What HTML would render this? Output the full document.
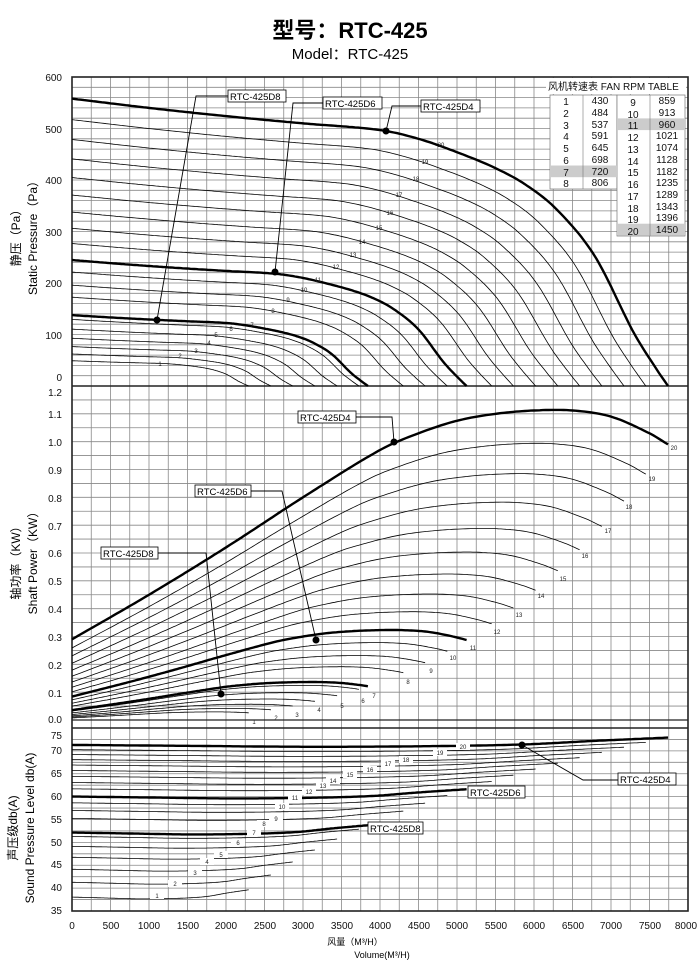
<!DOCTYPE html>
<html><head><meta charset="utf-8"><style>
html,body{margin:0;padding:0;background:#fff;}
svg{display:block;font-family:"Liberation Sans","Noto Sans CJK SC",sans-serif;}
</style></head><body>
<svg id="s" width="700" height="978" viewBox="0 0 700 978" xmlns="http://www.w3.org/2000/svg">
<g id="grid"></g>
<g id="curves"></g>
<text x="350" y="38" font-size="22" text-anchor="middle" font-weight="bold">型号：RTC-425</text>
<text x="350" y="59" font-size="15" text-anchor="middle">Model：RTC-425</text>

<g font-size="10" text-anchor="end" fill="#111">
<text x="62" y="81">600</text><text x="62" y="133">500</text><text x="62" y="184">400</text><text x="62" y="236">300</text><text x="62" y="287">200</text><text x="62" y="339">100</text><text x="62" y="381">0</text>
<text x="62" y="396">1.2</text><text x="62" y="418">1.1</text><text x="62" y="446">1.0</text><text x="62" y="474">0.9</text><text x="62" y="502">0.8</text><text x="62" y="530">0.7</text><text x="62" y="557">0.6</text><text x="62" y="585">0.5</text><text x="62" y="613">0.4</text><text x="62" y="641">0.3</text><text x="62" y="669">0.2</text><text x="62" y="697">0.1</text><text x="62" y="723">0.0</text>
<text x="62" y="739">75</text><text x="62" y="754">70</text><text x="62" y="777">65</text><text x="62" y="800">60</text><text x="62" y="823">55</text><text x="62" y="846">50</text><text x="62" y="868">45</text><text x="62" y="891">40</text><text x="62" y="914">35</text>
</g>
<g font-size="10" text-anchor="middle" fill="#111">
<text x="72" y="929">0</text><text x="111" y="929">500</text><text x="149" y="929">1000</text><text x="188" y="929">1500</text><text x="226" y="929">2000</text><text x="265" y="929">2500</text><text x="303" y="929">3000</text><text x="342" y="929">3500</text><text x="380" y="929">4000</text><text x="419" y="929">4500</text><text x="457" y="929">5000</text><text x="496" y="929">5500</text><text x="534" y="929">6000</text><text x="573" y="929">6500</text><text x="611" y="929">7000</text><text x="650" y="929">7500</text><text x="686" y="929">8000</text>
</g>
<text x="355" y="945" font-size="9" text-anchor="middle">风量（M³/H）</text>
<text x="382" y="958" font-size="9" text-anchor="middle">Volume(M³/H)</text>

<g font-size="12" text-anchor="middle">
<text transform="translate(20,235) rotate(-90)">静压（Pa）</text>
<text transform="translate(37,235) rotate(-90)">Static Pressure（Pa）</text>
<text transform="translate(20,560) rotate(-90)">轴功率（KW）</text>
<text transform="translate(37,560) rotate(-90)">Shaft Power（KW）</text>
<text transform="translate(17,828) rotate(-90)">声压级db(A)</text>
<text transform="translate(34,828) rotate(-90)">Sound Pressure Level db(A)</text>
</g>

<g font-size="6" text-anchor="middle" fill="#222">
<text x="160" y="366">1</text><text x="180" y="358">2</text><text x="196" y="353">3</text><text x="209" y="345">4</text><text x="216" y="337">5</text><text x="231" y="331">6</text><text x="252" y="327">7</text><text x="273" y="313">8</text><text x="288" y="302">9</text><text x="304" y="292">10</text><text x="318" y="282">11</text><text x="336" y="269">12</text><text x="353" y="257">13</text><text x="362" y="244">14</text><text x="379" y="230">15</text><text x="390" y="215">16</text><text x="399" y="197">17</text><text x="416" y="181">18</text><text x="425" y="164">19</text><text x="441" y="147">20</text>
<text x="674" y="450">20</text><text x="652" y="481">19</text><text x="629" y="509">18</text><text x="608" y="533">17</text><text x="585" y="558">16</text><text x="563" y="581">15</text><text x="541" y="598">14</text><text x="519" y="617">13</text><text x="497" y="634">12</text><text x="473" y="650">11</text><text x="453" y="660">10</text><text x="431" y="673">9</text><text x="408" y="684">8</text><text x="374" y="698">7</text><text x="363" y="703">6</text><text x="342" y="708">5</text><text x="319" y="712">4</text><text x="297" y="717">3</text><text x="276" y="720">2</text><text x="254" y="724">1</text>
</g>
<g font-size="6" text-anchor="middle" fill="#222" id="blabels">
<rect x="150" y="892" width="14" height="7" fill="#fff"/><text x="157" y="898">1</text>
<rect x="168" y="880" width="14" height="7" fill="#fff"/><text x="175" y="886">2</text>
<rect x="188" y="869" width="14" height="7" fill="#fff"/><text x="195" y="875">3</text>
<rect x="200" y="858" width="14" height="7" fill="#fff"/><text x="207" y="864">4</text>
<rect x="214" y="851" width="14" height="7" fill="#fff"/><text x="221" y="857">5</text>
<rect x="231" y="839" width="14" height="7" fill="#fff"/><text x="238" y="845">6</text>
<rect x="247" y="829" width="14" height="7" fill="#fff"/><text x="254" y="835">7</text>
<rect x="257" y="820" width="14" height="7" fill="#fff"/><text x="264" y="826">8</text>
<rect x="269" y="815" width="14" height="7" fill="#fff"/><text x="276" y="821">9</text>
<rect x="275" y="803" width="14" height="7" fill="#fff"/><text x="282" y="809">10</text>
<rect x="288" y="794" width="14" height="7" fill="#fff"/><text x="295" y="800">11</text>
<rect x="302" y="788" width="14" height="7" fill="#fff"/><text x="309" y="794">12</text>
<rect x="316" y="782" width="14" height="7" fill="#fff"/><text x="323" y="788">13</text>
<rect x="326" y="777" width="14" height="7" fill="#fff"/><text x="333" y="783">14</text>
<rect x="343" y="771" width="14" height="7" fill="#fff"/><text x="350" y="777">15</text>
<rect x="363" y="766" width="14" height="7" fill="#fff"/><text x="370" y="772">16</text>
<rect x="381" y="760" width="14" height="7" fill="#fff"/><text x="388" y="766">17</text>
<rect x="399" y="756" width="14" height="7" fill="#fff"/><text x="406" y="762">18</text>
<rect x="433" y="749" width="14" height="7" fill="#fff"/><text x="440" y="755">19</text>
<rect x="456" y="743" width="14" height="7" fill="#fff"/><text x="463" y="749">20</text>
</g>

<g stroke="#000" stroke-width="0.9" fill="none">
<polyline points="157,320 196,96 228,96"/>
<polyline points="275,272 293,103 323,103"/>
<polyline points="386,131 392,106 421,106"/>
<polyline points="356,417 392,417 394,442"/>
<polyline points="251,491 282,491 316,640"/>
<polyline points="158,553 206,553 221,694"/>
<polyline points="522,745 583,780 618,780"/>
</g>
<g fill="#000">
<circle cx="157" cy="320" r="3.5"/><circle cx="275" cy="272" r="3.5"/><circle cx="386" cy="131" r="3.5"/>
<circle cx="394" cy="442" r="3.5"/><circle cx="316" cy="640" r="3.5"/><circle cx="221" cy="694" r="3.5"/>
<circle cx="522" cy="745" r="3.5"/>
</g>
<g font-size="9.5" fill="#000">
<rect x="228" y="90" width="58" height="12" fill="#fff" stroke="#000" stroke-width="0.8"/><text x="230" y="100">RTC-425D8</text>
<rect x="323" y="97" width="59" height="12" fill="#fff" stroke="#000" stroke-width="0.8"/><text x="325" y="107">RTC-425D6</text>
<rect x="421" y="100" width="59" height="12" fill="#fff" stroke="#000" stroke-width="0.8"/><text x="423" y="110">RTC-425D4</text>
<rect x="298" y="411" width="58" height="12" fill="#fff" stroke="#000" stroke-width="0.8"/><text x="300" y="421">RTC-425D4</text>
<rect x="195" y="485" width="56" height="12" fill="#fff" stroke="#000" stroke-width="0.8"/><text x="197" y="495">RTC-425D6</text>
<rect x="101" y="547" width="57" height="12" fill="#fff" stroke="#000" stroke-width="0.8"/><text x="103" y="557">RTC-425D8</text>
<rect x="618" y="773" width="58" height="12" fill="#fff" stroke="#000" stroke-width="0.8"/><text x="620" y="783">RTC-425D4</text>
<rect x="468" y="786" width="57" height="12" fill="#fff" stroke="#000" stroke-width="0.8"/><text x="470" y="796">RTC-425D6</text>
<rect x="368" y="822" width="55" height="12" fill="#fff" stroke="#000" stroke-width="0.8"/><text x="370" y="832">RTC-425D8</text>
</g>

<g font-size="10" fill="#111">
<rect x="546" y="78" width="140" height="16" fill="#fff"/>
<text x="548" y="90">风机转速表  FAN  RPM  TABLE</text>
<rect x="550" y="95" width="67" height="94" fill="#fff" stroke="#777" stroke-width="0.7"/>
<rect x="617" y="95" width="68" height="141" fill="#fff" stroke="#777" stroke-width="0.7"/>
<rect x="550" y="165.5" width="67" height="11.7" fill="#ccc"/>
<rect x="617" y="118.4" width="68" height="11.7" fill="#ccc"/>
<rect x="617" y="223.7" width="68" height="11.7" fill="#ccc"/>
<g stroke="#777" stroke-width="0.6">
<line x1="583" y1="95" x2="583" y2="189"/><line x1="650" y1="95" x2="650" y2="236"/>
</g>
<g text-anchor="middle">
<text x="566" y="105">1</text><text x="600" y="104">430</text><text x="633" y="106">9</text><text x="667" y="104">859</text>
<text x="566" y="117">2</text><text x="600" y="116">484</text><text x="633" y="118">10</text><text x="667" y="116">913</text>
<text x="566" y="129">3</text><text x="600" y="128">537</text><text x="633" y="129">11</text><text x="667" y="128">960</text>
<text x="566" y="140">4</text><text x="600" y="139">591</text><text x="633" y="141">12</text><text x="667" y="139">1021</text>
<text x="566" y="152">5</text><text x="600" y="151">645</text><text x="633" y="153">13</text><text x="667" y="151">1074</text>
<text x="566" y="164">6</text><text x="600" y="163">698</text><text x="633" y="165">14</text><text x="667" y="163">1128</text>
<text x="566" y="176">7</text><text x="600" y="175">720</text><text x="633" y="176">15</text><text x="667" y="175">1182</text>
<text x="566" y="187">8</text><text x="600" y="186">806</text><text x="633" y="188">16</text><text x="667" y="186">1235</text>
<text x="633" y="200">17</text><text x="667" y="198">1289</text>
<text x="633" y="212">18</text><text x="667" y="210">1343</text>
<text x="633" y="223">19</text><text x="667" y="221">1396</text>
<text x="633" y="235">20</text><text x="667" y="233">1450</text>
</g>
</g>
</svg>
<script>
(function(){
var NS="http://www.w3.org/2000/svg";
var grid=document.getElementById('grid'),cur=document.getElementById('curves');
function el(p,t,a){var e=document.createElementNS(NS,t);for(var k in a)e.setAttribute(k,a[k]);p.appendChild(e);return e;}
var X=function(v){return 72+v*616/8000;};
var YP=function(p){return 386-p*309/600;};
var YW=function(w){return 720-w*334/1.2;};
var YD=function(d){return 911-(d-35)*183/40;};
var L=72,R=688;
for(var v=250;v<8000;v+=250){el(grid,'line',{x1:X(v),y1:77,x2:X(v),y2:911,stroke:'#888','stroke-width':0.8});}
for(var p=20;p<600;p+=20){el(grid,'line',{x1:L,y1:YP(p),x2:R,y2:YP(p),stroke:'#888','stroke-width':0.8});}
for(var w=0.05;w<1.2;w+=0.05){el(grid,'line',{x1:L,y1:YW(w),x2:R,y2:YW(w),stroke:'#888','stroke-width':0.8});}
for(var d=37.5;d<75;d+=2.5){el(grid,'line',{x1:L,y1:YD(d),x2:R,y2:YD(d),stroke:'#888','stroke-width':0.8});}
el(grid,'rect',{x:L,y:77,width:R-L,height:834,fill:'none',stroke:'#222','stroke-width':1.6});
el(grid,'line',{x1:L,y1:386,x2:R,y2:386,stroke:'#222','stroke-width':1.6});
el(grid,'line',{x1:L,y1:720,x2:R,y2:720,stroke:'#222','stroke-width':1.2});
el(grid,'line',{x1:L,y1:728,x2:R,y2:728,stroke:'#222','stroke-width':1.6});
var rpm=[430,484,537,591,645,698,720,806,859,913,960,1021,1074,1128,1182,1235,1289,1343,1396,1450];
var Pb=[[0,558],[1000,540],[2000,524],[3000,510],[4000,497],[4500,480],[5000,454],[5500,423],[5900,390],[6300,342],[6790,252],[7290,105],[7550,42],[7740,0]];
var Wb=[[0,0.29],[1000,0.45],[2000,0.62],[3000,0.80],[4000,0.97],[4500,1.03],[5000,1.075],[5500,1.10],[6000,1.112],[6500,1.112],[7000,1.09],[7500,1.03],[7740,0.99]];
var Db=[[0,71.3],[1500,71.1],[3000,70.9],[4500,71.0],[5850,71.4],[6800,72.2],[7740,72.9]];
function interp(t,q){
 for(var i=1;i<t.length;i++){if(q<=t[i][0]){
  var a=t[i-1],b=t[i],h=b[0]-a[0],s=(q-a[0])/h;
  var m0=(i>1)?(b[1]-t[i-2][1])/(b[0]-t[i-2][0]):(b[1]-a[1])/h;
  var m1=(i<t.length-1)?(t[i+1][1]-a[1])/(t[i+1][0]-a[0]):(b[1]-a[1])/h;
  var s2=s*s,s3=s2*s;
  return (2*s3-3*s2+1)*a[1]+(s3-2*s2+s)*h*m0+(-2*s3+3*s2)*b[1]+(s3-s2)*h*m1;}}
 return t[t.length-1][1];}
rpm.forEach(function(n,i){
 var r=n/1450,thick=(i==6||i==10||i==19);
 var sw=thick?2.4:0.8;
 var a=[],b=[],c=[];
 for(var k=0;k<=200;k++){var q=7740*k/200;var Q=q*r;
  a.push(X(Q).toFixed(1)+','+YP(Math.max(0,interp(Pb,q))*r*r).toFixed(1));
  b.push(X(Q).toFixed(1)+','+YW(interp(Wb,q)*r*r*r).toFixed(1));
  c.push(X(Q).toFixed(1)+','+YD(interp(Db,q)+63*Math.log10(r)).toFixed(1));}
 [a,b,c].forEach(function(pts){el(cur,'polyline',{points:pts.join(' '),fill:'none',stroke:'#000','stroke-width':sw,'stroke-linejoin':'round'});});
});
})();
</script>
</body></html>
